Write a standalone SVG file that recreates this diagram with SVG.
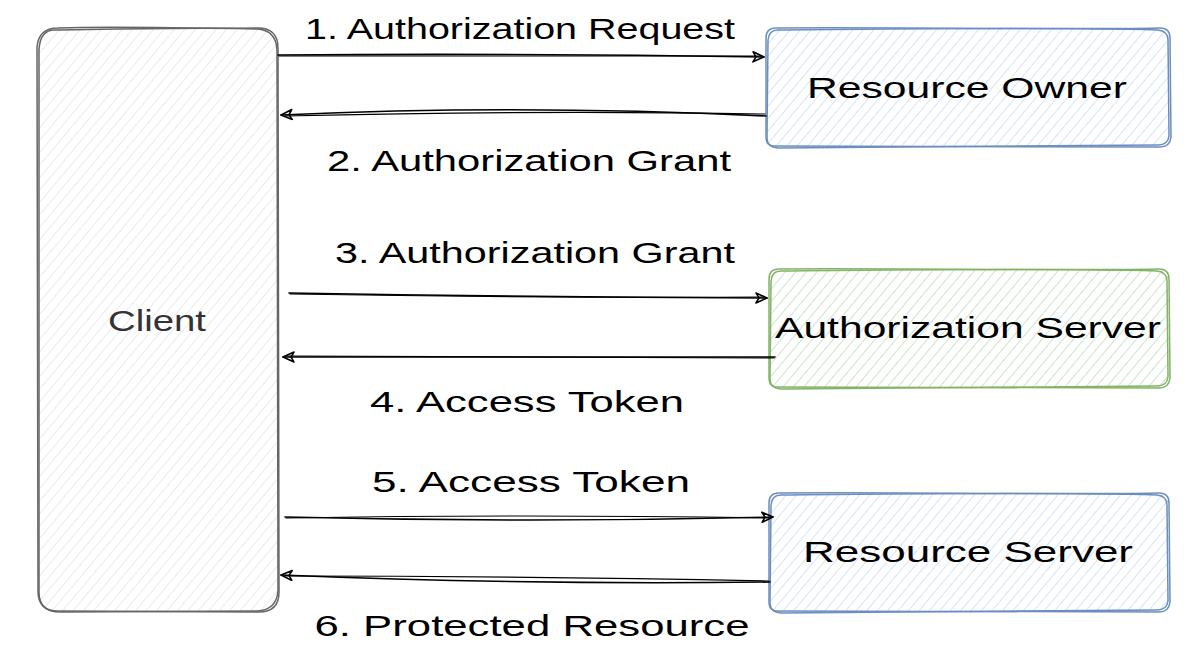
<svg xmlns="http://www.w3.org/2000/svg" width="1194" height="660" viewBox="0 0 1194 660">
  <style>
    .lbl { font-family: "Liberation Sans", Arial, sans-serif; font-size: 29px; fill: #000; text-anchor: middle; }
    .cl { fill: #333; }
    .edge { fill: none; stroke: #000; stroke-width: 1.6; stroke-linecap: round; }
    .edge2 { fill: none; stroke: #000; stroke-width: 1.1; stroke-linecap: round; }
    .gray { fill: none; stroke: #666; stroke-width: 1.5; }
    .blue { fill: none; stroke: #6c8ebf; stroke-width: 1.5; }
    .green { fill: none; stroke: #82b366; stroke-width: 1.5; }
  </style>
  <defs>
    <pattern id="hGray" patternUnits="userSpaceOnUse" width="8" height="8" patternTransform="rotate(40)">
      <line x1="0" y1="0" x2="0" y2="8" stroke="#e4e4e4" stroke-width="1.5"/>
    </pattern>
    <pattern id="hBlue" patternUnits="userSpaceOnUse" width="8" height="8" patternTransform="rotate(40)">
      <line x1="0" y1="0" x2="0" y2="8" stroke="#c8dbf6" stroke-width="1.5"/>
    </pattern>
    <pattern id="hGreen" patternUnits="userSpaceOnUse" width="8" height="8" patternTransform="rotate(40)">
      <line x1="0" y1="0" x2="0" y2="8" stroke="#bcdcb9" stroke-width="1.5"/>
    </pattern>
    <marker id="arr" markerUnits="userSpaceOnUse" markerWidth="16" markerHeight="14" refX="12" refY="6" orient="auto">
      <path d="M1,1 L12,6 L1,11 L4,6 Z" fill="none" stroke="#000" stroke-width="1.6" stroke-linejoin="round"/>
    </marker>
  </defs>

  <g id="client">
    <rect x="38" y="28" width="240" height="584" rx="20" fill="url(#hGray)"/>
    <path class="gray" d="M58,28 C120,26 200,29 258,28 Q278,28 278,48 L279,592 Q279,612 259,612 L58,611 Q38,611 38,591 L37,48 Q38,28 58,28 Z"/>
    <path class="gray" d="M56,30 C130,29 210,27 257,29 Q276,30 277,50 L278,590 Q277,610 257,611 L60,612 Q39,612 39,592 L39,50 Q40,29 56,30 Z"/>
    <text class="lbl cl" x="157" y="331" textLength="98" lengthAdjust="spacingAndGlyphs">Client</text>
  </g>

  <g id="resource-owner">
    <rect x="766" y="28" width="404" height="119" rx="10" fill="url(#hBlue)"/>
    <path class="blue" d="M776,28 C900,27 1050,30 1160,28 Q1170,28 1170,38 L1171,137 Q1170,147 1160,147 L776,146 Q766,147 766,137 L766,38 Q766,28 776,28 Z"/>
    <path class="blue" d="M778,30 C880,29 1040,27 1158,30 Q1168,31 1168,40 L1169,136 Q1168,145 1158,145 L778,148 Q767,147 767,138 L768,40 Q769,30 778,30 Z"/>
    <text class="lbl" x="967" y="98" textLength="320" lengthAdjust="spacingAndGlyphs">Resource Owner</text>
  </g>

  <g id="authorization-server">
    <rect x="769" y="269" width="400" height="119" rx="10" fill="url(#hGreen)"/>
    <path class="green" d="M779,269 C900,268 1050,271 1159,269 Q1169,269 1169,279 L1170,378 Q1169,388 1159,388 L779,387 Q769,388 769,378 L769,279 Q769,269 779,269 Z"/>
    <path class="green" d="M781,271 C880,270 1040,268 1157,271 Q1167,272 1167,281 L1168,377 Q1167,386 1157,386 L781,389 Q770,388 770,379 L771,281 Q772,271 781,271 Z"/>
    <text class="lbl" x="968" y="338" textLength="386" lengthAdjust="spacingAndGlyphs">Authorization Server</text>
  </g>

  <g id="resource-server">
    <rect x="769" y="493" width="400" height="119" rx="10" fill="url(#hBlue)"/>
    <path class="blue" d="M779,493 C900,492 1050,495 1159,493 Q1169,493 1169,503 L1170,602 Q1169,612 1159,612 L779,611 Q769,612 769,602 L769,503 Q769,493 779,493 Z"/>
    <path class="blue" d="M781,495 C880,494 1040,492 1157,495 Q1167,496 1167,505 L1168,601 Q1167,610 1157,610 L781,613 Q770,612 770,603 L771,505 Q772,495 781,495 Z"/>
    <text class="lbl" x="968" y="562" textLength="330" lengthAdjust="spacingAndGlyphs">Resource Server</text>
  </g>

  <g id="connectors">
    <path class="edge" d="M278,55 Q520,53 764,57" marker-end="url(#arr)"/>
    <path class="edge2" d="M279,56 Q530,57 760,56"/>
    <path class="edge" d="M766,116 Q520,104 281,115" marker-end="url(#arr)"/>
    <path class="edge2" d="M765,114 Q540,110 285,116"/>
    <path class="edge" d="M289,293 Q530,297 767,298" marker-end="url(#arr)"/>
    <path class="edge2" d="M290,294 Q520,298 763,297"/>
    <path class="edge" d="M775,357 Q530,358 283,357" marker-end="url(#arr)"/>
    <path class="edge2" d="M774,358 Q520,356 287,356"/>
    <path class="edge" d="M285,517 Q530,523 773,517" marker-end="url(#arr)"/>
    <path class="edge2" d="M286,518 Q520,514 769,518"/>
    <path class="edge" d="M770,582 Q520,585 281,575" marker-end="url(#arr)"/>
    <path class="edge2" d="M769,581 Q520,576 285,576"/>
  </g>

  <g id="labels">
    <text class="lbl" x="520" y="39" textLength="430" lengthAdjust="spacingAndGlyphs">1. Authorization Request</text>
    <text class="lbl" x="529" y="171" textLength="404" lengthAdjust="spacingAndGlyphs">2. Authorization Grant</text>
    <text class="lbl" x="535" y="263" textLength="400" lengthAdjust="spacingAndGlyphs">3. Authorization Grant</text>
    <text class="lbl" x="527" y="412" textLength="314" lengthAdjust="spacingAndGlyphs">4. Access Token</text>
    <text class="lbl" x="531" y="492" textLength="318" lengthAdjust="spacingAndGlyphs">5. Access Token</text>
    <text class="lbl" x="532" y="636" textLength="435" lengthAdjust="spacingAndGlyphs">6. Protected Resource</text>
  </g>
</svg>
